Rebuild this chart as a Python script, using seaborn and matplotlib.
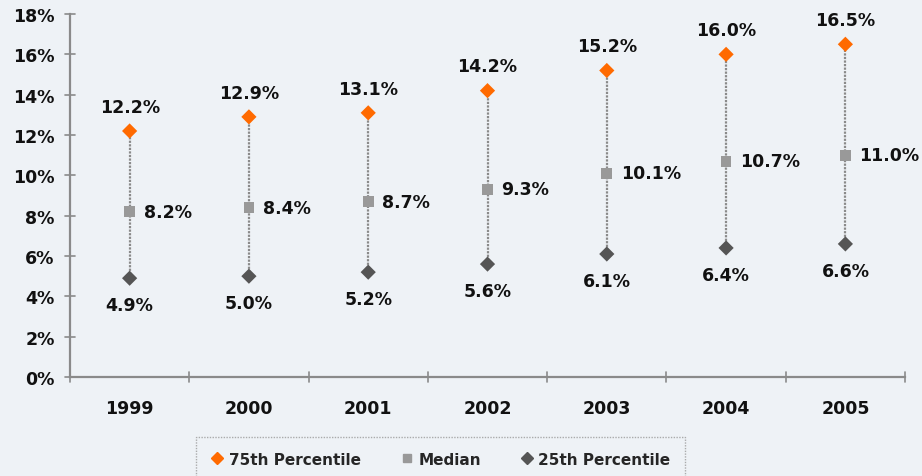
import matplotlib
matplotlib.use("Agg")
import matplotlib.pyplot as plt
import seaborn as sns
import pandas as pd
from matplotlib.lines import Line2D

years = ["1999", "2000", "2001", "2002", "2003", "2004", "2005"]
p75 = [12.2, 12.9, 13.1, 14.2, 15.2, 16.0, 16.5]
median = [8.2, 8.4, 8.7, 9.3, 10.1, 10.7, 11.0]
p25 = [4.9, 5.0, 5.2, 5.6, 6.1, 6.4, 6.6]
yticks = [0, 2, 4, 6, 8, 10, 12, 14, 16, 18]

bg = "#EEF2F6"
c75, cmed, c25 = "#FF6A00", "#999999", "#555555"

sns.set_theme(style="white")
plt.rcParams["font.family"] = ["DejaVu Sans"]
plt.rcParams["font.weight"] = "bold"

df = pd.DataFrame({
    "year": years * 3,
    "value": p75 + median + p25,
    "series": ["75th Percentile"] * 7 + ["Median"] * 7 + ["25th Percentile"] * 7,
})

fig = plt.figure(figsize=(9.22, 4.77), dpi=100, facecolor=bg)
ax = fig.add_axes([0.0759, 0.2075, 0.9057, 0.761])
ax.set_facecolor(bg)

xs = list(range(len(years)))
ax.vlines(xs, p25, p75, colors="#8A8A8A", linewidth=1.6, linestyles=(0, (1, 0.6)), zorder=1)

sns.scatterplot(data=df, x="year", y="value", hue="series", style="series",
                palette={"75th Percentile": c75, "Median": cmed, "25th Percentile": c25},
                markers={"75th Percentile": "D", "Median": "s", "25th Percentile": "D"},
                s=60, linewidth=0, legend=False, ax=ax, zorder=3)

fs = 12.5
for i in xs:
    ax.annotate(f"{p75[i]:.1f}%", (i, p75[i]), xytext=(0, 11), textcoords="offset points",
                ha="center", va="bottom", fontsize=fs, fontweight="bold", color="#111111")
    ax.annotate(f"{median[i]:.1f}%", (i, median[i]), xytext=(10, 0), textcoords="offset points",
                ha="left", va="center", fontsize=fs, fontweight="bold", color="#111111")
    ax.annotate(f"{p25[i]:.1f}%", (i, p25[i]), xytext=(0, -13), textcoords="offset points",
                ha="center", va="top", fontsize=fs, fontweight="bold", color="#111111")

ax.set_xlim(-0.5, len(years) - 0.5)
ax.set_ylim(0, 18)
ax.set_yticks(yticks)
ax.set_yticklabels([f"{t}%" for t in yticks], fontsize=fs, fontweight="bold", color="#111111")
ax.set_xticks(xs)
ax.set_xticklabels(years, fontsize=fs, fontweight="bold", color="#111111")
ax.tick_params(axis="x", length=0, pad=16)
ax.tick_params(axis="y", length=0, pad=11)
ax.set_xlabel("")
ax.set_ylabel("")

for side in ["top", "right"]:
    ax.spines[side].set_visible(False)
for side in ["left", "bottom"]:
    ax.spines[side].set_color("#8A8A8A")
    ax.spines[side].set_linewidth(1.6)

# crossing tick marks on the axes
for t in yticks:
    ax.plot([-0.5 - 0.04, -0.5 + 0.04], [t, t], color="#8A8A8A", lw=1.2, clip_on=False, zorder=2)
for b in range(len(years) + 1):
    ax.plot([b - 0.5, b - 0.5], [-0.25, 0.25], color="#8A8A8A", lw=1.2, clip_on=False, zorder=2)

handles = [
    Line2D([], [], marker="D", color=c75, linestyle="none", markersize=6),
    Line2D([], [], marker="s", color=cmed, linestyle="none", markersize=6),
    Line2D([], [], marker="D", color=c25, linestyle="none", markersize=6),
]
leg = fig.legend(handles, ["75th Percentile", "Median", "25th Percentile"],
                 loc="center", bbox_to_anchor=(0.478, 0.035), ncol=3, frameon=True,
                 fontsize=11, handlelength=0.8, handletextpad=0.35, columnspacing=2.6,
                 borderpad=1.0, borderaxespad=0, fancybox=False)
leg.get_frame().set_edgecolor("#999999")
leg.get_frame().set_facecolor(bg)
leg.get_frame().set_linestyle((0, (1, 1)))
for txt in leg.get_texts():
    txt.set_fontweight("bold")

fig.savefig("out.png", dpi=100, facecolor=bg)
